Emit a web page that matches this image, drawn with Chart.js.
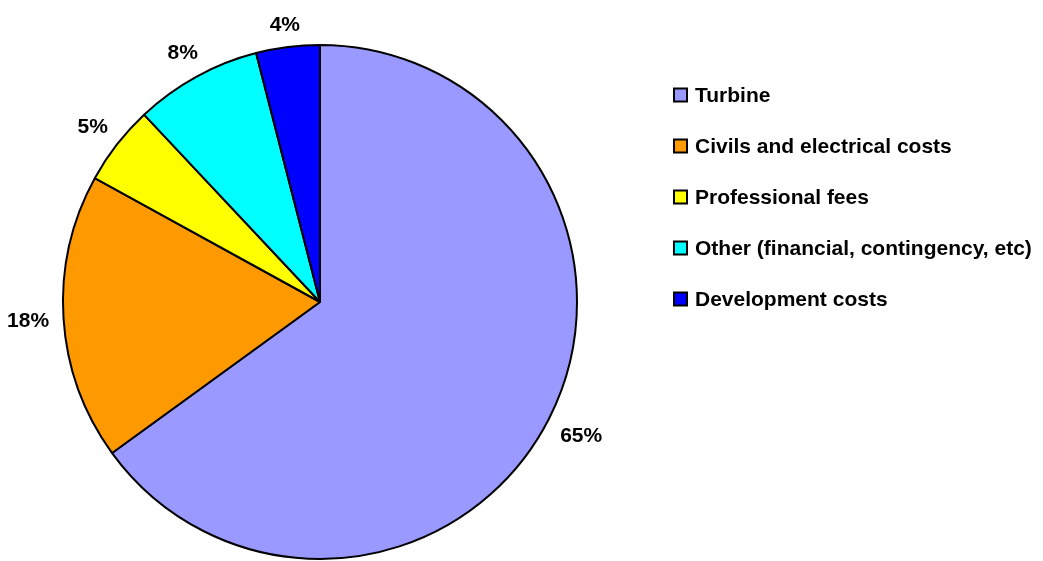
<!DOCTYPE html>
<html>
<head>
<meta charset="utf-8">
<script src="https://cdn.jsdelivr.net/npm/chart.js@4.4.1/dist/chart.umd.min.js"></script>
<style>
  html, body { margin: 0; padding: 0; background: #fff; }
  #wrap { width: 1043px; height: 561px; position: relative; }
</style>
</head>
<body>
<div id="wrap"><canvas id="costChart"></canvas></div>
<script>
// Cost breakdown data
const categories = ['Turbine', 'Civils and electrical costs', 'Professional fees', 'Other (financial, contingency, etc)', 'Development costs'];
const shares = [65, 18, 5, 8, 4];
const sliceColors = ['#9999FF', '#FF9900', '#FFFF00', '#00FFFF', '#0000FF'];

const FONT = 'bold 21px "Liberation Sans", Arial, sans-serif';

// percentage labels outside each slice, box edge kept a fixed gap from the rim
const outsideLabels = {
  id: 'outsideLabels',
  afterDatasetsDraw(chart) {
    const ctx = chart.ctx;
    const meta = chart.getDatasetMeta(0);
    const gap = 14, h = 15;
    ctx.save();
    ctx.font = FONT;
    ctx.fillStyle = '#000';
    ctx.textAlign = 'center';
    ctx.textBaseline = 'middle';
    meta.data.forEach((arc, i) => {
      const p = arc.getProps(['x', 'y', 'startAngle', 'endAngle', 'outerRadius'], true);
      const mid = (p.startAngle + p.endAngle) / 2;
      const txt = shares[i] + '%';
      const w = ctx.measureText(txt).width;
      const cx = Math.cos(mid), cy = Math.sin(mid);
      const r = p.outerRadius + gap + Math.abs(cx) * w / 2 + Math.abs(cy) * h / 2;
      ctx.fillText(txt, p.x + cx * r, p.y + cy * r + 1);
    });
    ctx.restore();
  }
};

// legend on the right, drawn by hand so it sits where the original does
const sideLegend = {
  id: 'sideLegend',
  afterDraw(chart) {
    const ctx = chart.ctx;
    const x0 = 674, y0 = 95, step = 51, box = 13;
    ctx.save();
    ctx.font = FONT;
    ctx.textBaseline = 'middle';
    chart.data.labels.forEach((lab, i) => {
      const y = y0 + i * step;
      ctx.fillStyle = sliceColors[i];
      ctx.fillRect(x0, y - box / 2, box, box);
      ctx.lineWidth = 2;
      ctx.strokeStyle = '#000';
      ctx.strokeRect(x0, y - box / 2, box, box);
      ctx.fillStyle = '#000';
      ctx.fillText(lab, x0 + 21, y + 1);
    });
    ctx.restore();
  }
};

new Chart(document.getElementById('costChart'), {
  type: 'pie',
  data: {
    labels: categories,
    datasets: [{
      data: shares,
      backgroundColor: sliceColors,
      borderColor: '#000',
      borderWidth: 2,
      borderAlign: 'center'
    }]
  },
  options: {
    responsive: true,
    maintainAspectRatio: false,
    animation: false,
    layout: { padding: { left: 62, top: 44, right: 465, bottom: 1 } },
    plugins: {
      legend: { display: false },
      tooltip: { enabled: false }
    }
  },
  plugins: [outsideLabels, sideLegend]
});
</script>
</body>
</html>
